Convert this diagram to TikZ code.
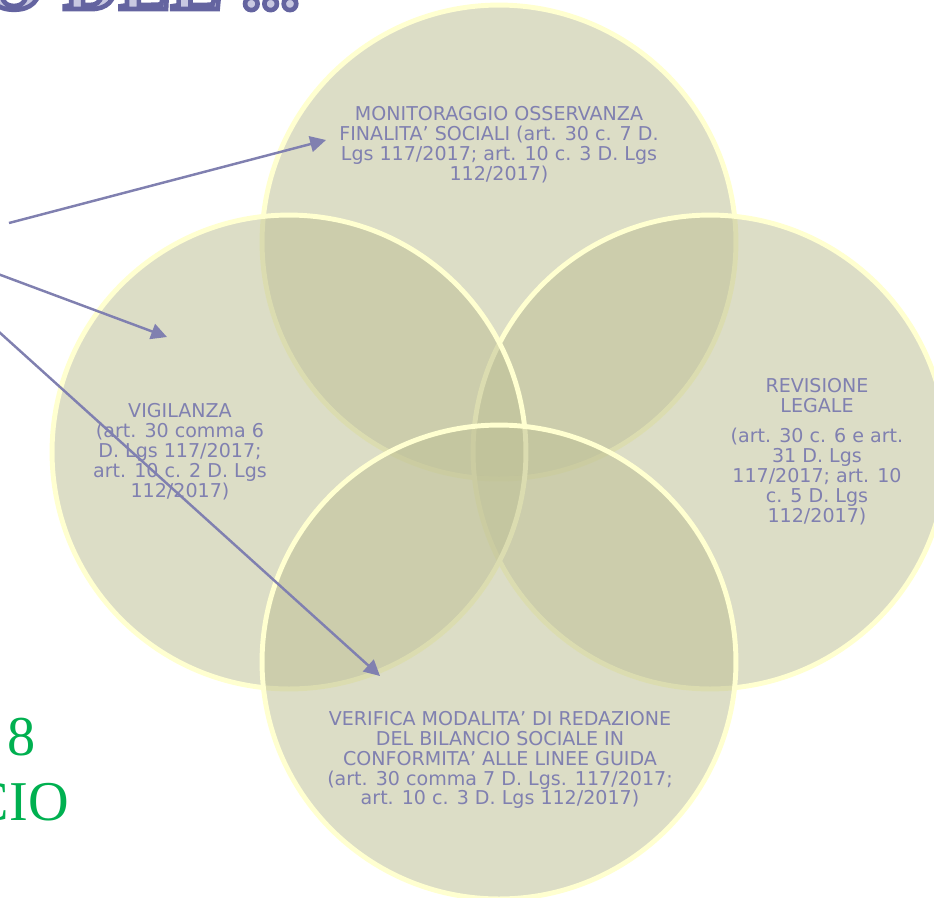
\documentclass[tikz,border=0pt]{standalone}
\usepackage{fontspec}
\setmainfont{DejaVu Sans}
\newfontfamily\serifgreen{Liberation Serif}
\newfontfamily\titleserif{Liberation Serif Bold}[FakeBold=6]
\usetikzlibrary{arrows.meta}
\definecolor{circfill}{RGB}{190,192,150}
\definecolor{circedge}{RGB}{255,255,208}
\definecolor{txt}{RGB}{128,128,176}
\definecolor{arr}{RGB}{128,128,176}
\definecolor{grn}{RGB}{0,176,80}
\definecolor{ttllight}{RGB}{200,200,225}
\begin{document}
\begin{tikzpicture}[x=0.02cm,y=-0.02cm,
  venn/.style={circle, minimum size=9.48cm, inner sep=0pt, outer sep=0pt,
    draw=circedge, line width=2.8pt, fill=circfill, fill opacity=0.54},
  lbl/.style={text=txt, align=center, inner sep=0pt,
    font=\fontsize{10.85}{11.35}\selectfont},
  pointer/.style={draw=arr, line width=1.4pt, -{Triangle[length=9pt,width=9pt]}},
  ttl/.style={anchor=base east, inner sep=0pt, text=ttllight, font=\titleserif\fontsize{44}{44}\selectfont},
  grtxt/.style={anchor=base east, inner sep=0pt, text=grn, font=\serifgreen\fontsize{32}{32}\selectfont}]
\useasboundingbox (0,0) rectangle (934,897);
\clip (0,0) rectangle (934,897);

% title (cut by the top edge): light fill, dark outline
\node[ttl] (ttl) at (300,9) {\special{pdf:code 0.392 0.392 0.627 RG}O DEL ...};

% green text at the left edge
\node[grtxt] (greeneight) at (36,755) {8};
\node[grtxt] (greencio) at (69,820) {CIO};

% circles
\node[venn] (ctop) at (499,242) {};
\node[venn] (cright) at (710,452) {};
\node[venn] (cleft) at (289,452) {};
\node[venn] (cbot) at (499,662) {};

% texts
\node[lbl] (ttop) at (499,145) {MONITORAGGIO OSSERVANZA\\FINALITA’ SOCIALI (art. 30 c. 7 D.\\Lgs 117/2017; art. 10 c. 3 D. Lgs\\112/2017)};
\node[lbl] (tleft) at (180,452) {VIGILANZA\\(art. 30 comma 6\\D. Lgs 117/2017;\\art. 10 c. 2 D. Lgs\\112/2017)};
\node[lbl] (tright) at (817,452) {REVISIONE\\LEGALE\\[5.7pt](art. 30 c. 6 e art.\\31 D. Lgs\\117/2017; art. 10\\c. 5 D. Lgs\\112/2017)};
\node[lbl] (tbot) at (500,760) {VERIFICA MODALITA’ DI REDAZIONE\\DEL BILANCIO SOCIALE IN\\CONFORMITA’ ALLE LINEE GUIDA\\(art. 30 comma 7 D. Lgs. 117/2017;\\art. 10 c. 3 D. Lgs 112/2017)};

% arrows
\coordinate (s1) at (9,223);
\coordinate (e1) at (326,140);
\coordinate (s2) at (-2,274);
\coordinate (e2) at (167,337);
\coordinate (s3) at (-2,331);
\coordinate (e3) at (380,676);
\draw[pointer] (s1) -- (e1);
\draw[pointer] (s2) -- (e2);
\draw[pointer] (s3) -- (e3);
\end{tikzpicture}
\end{document}
